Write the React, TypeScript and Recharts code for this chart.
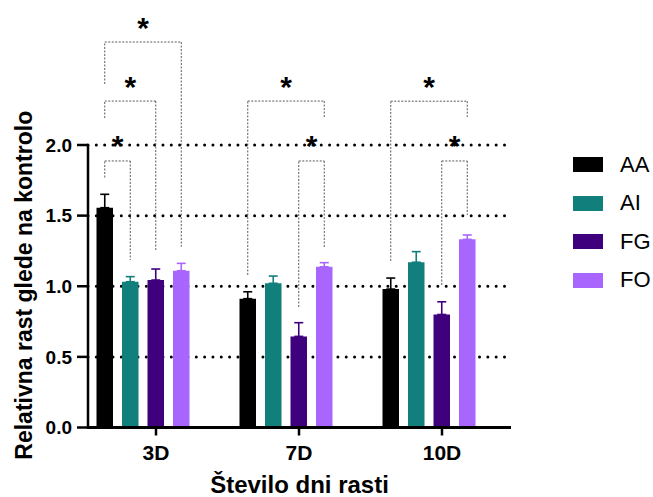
import React from 'react';
import {
  BarChart,
  Bar,
  XAxis,
  YAxis,
  CartesianGrid,
  ErrorBar,
  ReferenceLine,
  ReferenceDot,
  Legend,
  Label,
} from 'recharts';

// ---------- data ----------
const days = ['3D', '7D', '10D'];
const seriesNames = ['AA', 'AI', 'FG', 'FO'];
const seriesColors = ['#000000', '#117f7b', '#3e007c', '#a966ff'];

const aaValues = [1.556, 0.912, 0.98];
const aiValues = [1.032, 1.021, 1.17];
const fgValues = [1.044, 0.645, 0.8];
const foValues = [1.11, 1.138, 1.332];

const aaErrors = [0.095, 0.049, 0.078];
const aiErrors = [0.036, 0.051, 0.075];
const fgErrors = [0.078, 0.097, 0.09];
const foErrors = [0.052, 0.029, 0.031];

const yTicks = [0, 0.5, 1, 1.5, 2];

// significance brackets
const bracketDay = [0, 0, 0, 1, 1, 2, 2];
const bracketFrom = ['AA', 'AA', 'AA', 'AA', 'FG', 'AA', 'FG'];
const bracketTo = ['AI', 'FG', 'FO', 'FO', 'FO', 'FO', 'FO'];
const bracketTop = [1.887, 2.311, 2.729, 2.311, 1.887, 2.31, 1.887];
const bracketFromEnd = [1.77, 2.191, 2.432, 1.08, 0.853, 1.179, 1.009];
const bracketToEnd = [1.186, 1.257, 1.28, 2.198, 1.27, 2.198, 1.504];
const bracketMark = ['*', '*', '*', '*', '*', '*', '*'];

// ---------- layout / style ----------
const W = 653;
const H = 497;
const PLOT_LEFT = 88;
const PLOT_RIGHT = 511;
const PLOT_TOP = 145;
const X_AXIS_H = 69.5;
const PAD_L = -3.5;
const PAD_R = -2.5;
const BAR_SIZE = 16.5;
const BAR_GAP = 9;
const SLOTS = seriesNames.length + 1; // one empty slot (as in the original)
const FONT = '"Liberation Sans", Arial, Helvetica, sans-serif';

const valueSets = [aaValues, aiValues, fgValues, foValues];
const errorSets = [aaErrors, aiErrors, fgErrors, foErrors];

const tableData = days.map((d, i) => {
  const row: any = { day: d };
  seriesNames.forEach((n, k) => {
    row[n] = valueSets[k][i];
    row[n + '_err'] = [0, errorSets[k][i]];
  });
  row.empty = null;
  return row;
});

const band = (PLOT_RIGHT - PLOT_LEFT - PAD_L - PAD_R) / days.length;
const groupOffset = Math.floor((band - (SLOTS * BAR_SIZE + (SLOTS - 1) * BAR_GAP)) / 2);
const slotPos = (day: number, name: string) =>
  day + (groupOffset + seriesNames.indexOf(name) * (BAR_SIZE + BAR_GAP) + BAR_SIZE / 2) / band;

const bracketStroke = '#5a5a5a';

const StarShape = (props: any) => (
  <text
    x={props.cx}
    y={props.cy}
    textAnchor="middle"
    fontFamily={FONT}
    fontWeight="bold"
    fontSize={30}
    fill="#000"
  >
    {props.mark}
  </text>
);

const LegendContent = () => (
  <div style={{ fontFamily: FONT }}>
    {seriesNames.map((n, i) => (
      <div key={n} style={{ display: 'flex', alignItems: 'center', height: 38.5 }}>
        <span
          style={{ display: 'inline-block', width: 30, height: 15, background: seriesColors[i] }}
        />
        <span style={{ marginLeft: 17, fontSize: 22, color: '#000', lineHeight: '22px' }}>{n}</span>
      </div>
    ))}
  </div>
);

export default function App() {
  const brackets: React.ReactNode[] = [];
  bracketDay.forEach((d, i) => {
    const x1 = slotPos(d, bracketFrom[i]);
    const x2 = slotPos(d, bracketTo[i]);
    const top = bracketTop[i];
    const common = {
      xAxisId: 'num',
      stroke: bracketStroke,
      strokeWidth: 1,
      strokeDasharray: '2 1.5',
      ifOverflow: 'visible' as const,
    };
    brackets.push(
      <ReferenceLine key={`l${i}`} {...common} segment={[{ x: x1, y: bracketFromEnd[i] }, { x: x1, y: top }]} />,
      <ReferenceLine key={`t${i}`} {...common} segment={[{ x: x1, y: top }, { x: x2, y: top }]} />,
      <ReferenceLine key={`r${i}`} {...common} segment={[{ x: x2, y: top }, { x: x2, y: bracketToEnd[i] }]} />,
      <ReferenceDot
        key={`s${i}`}
        xAxisId="num"
        x={(x1 + x2) / 2}
        y={top}
        r={0}
        ifOverflow="visible"
        shape={(p: any) => <StarShape {...p} cy={p.cy - 4.5} mark={bracketMark[i]} />}
      />
    );
  });

  return (
    <div style={{ position: 'absolute', left: 0, top: 0, width: W, height: H, background: '#fff' }}>
      <BarChart
        width={W}
        height={H}
        data={tableData}
        margin={{ top: PLOT_TOP, right: W - PLOT_RIGHT, left: 0, bottom: 0 }}
        barSize={BAR_SIZE}
        barGap={BAR_GAP}
      >
        <CartesianGrid
          vertical={false}
          stroke="#000"
          strokeWidth={3}
          strokeDasharray="0 8.33"
          strokeLinecap="round"
        />
        <XAxis
          dataKey="day"
          height={X_AXIS_H}
          padding={{ left: PAD_L, right: PAD_R }}
          axisLine={{ stroke: '#000', strokeWidth: 3 }}
          tickLine={{ stroke: '#000', strokeWidth: 2.5 }}
          tickSize={8}
          tickMargin={9.5}
          tick={{ fill: '#000', fontSize: 21, fontWeight: 'bold', fontFamily: FONT }}
          interval={0}
        >
          <Label
            content={(p: any) => {
              const vb = p.viewBox;
              return (
                <text
                  x={vb.x + vb.width / 2}
                  y={vb.y + 65.5}
                  textAnchor="middle"
                  fontFamily={FONT}
                  fontWeight="bold"
                  fontSize={24}
                  fill="#000"
                >
                  Število dni rasti
                </text>
              );
            }}
          />
        </XAxis>
        <XAxis
          xAxisId="num"
          type="number"
          dataKey={() => 0}
          domain={[0, days.length]}
          allowDataOverflow
          padding={{ left: PAD_L, right: PAD_R }}
          hide
        />
        <YAxis
          width={PLOT_LEFT}
          domain={[0, 2]}
          ticks={yTicks}
          interval={0}
          tickFormatter={(v: number) => v.toFixed(1)}
          axisLine={{ stroke: '#000', strokeWidth: 2.5 }}
          tickLine={{ stroke: '#000', strokeWidth: 2.5 }}
          tickSize={11}
          tickMargin={5}
          tick={{ fill: '#000', fontSize: 19, fontWeight: 'bold', fontFamily: FONT }}
        >
          <Label
            content={(p: any) => {
              const vb = p.viewBox;
              const cx = vb.x + 32;
              const cy = vb.y + vb.height / 2 - 1;
              return (
                <text
                  x={cx}
                  y={cy}
                  transform={`rotate(-90 ${cx} ${cy})`}
                  textAnchor="middle"
                  fontFamily={FONT}
                  fontWeight="bold"
                  fontSize={23}
                  fill="#000"
                >
                  Relativna rast glede na kontrolo
                </text>
              );
            }}
          />
        </YAxis>
        {seriesNames.map((n, i) => (
          <Bar key={n} dataKey={n} fill={seriesColors[i]} isAnimationActive={false}>
            <ErrorBar
              dataKey={n + '_err'}
              direction="y"
              width={4.5}
              stroke={seriesColors[i]}
              strokeWidth={1.6}
              isAnimationActive={false}
            />
          </Bar>
        ))}
        <Bar dataKey="empty" fill="none" legendType="none" isAnimationActive={false} />
        {brackets}
        <Legend
          layout="vertical"
          align="center"
          verticalAlign="middle"
          wrapperStyle={{ left: 573, top: 145.25, width: 80 }}
          content={LegendContent}
        />
      </BarChart>
    </div>
  );
}
